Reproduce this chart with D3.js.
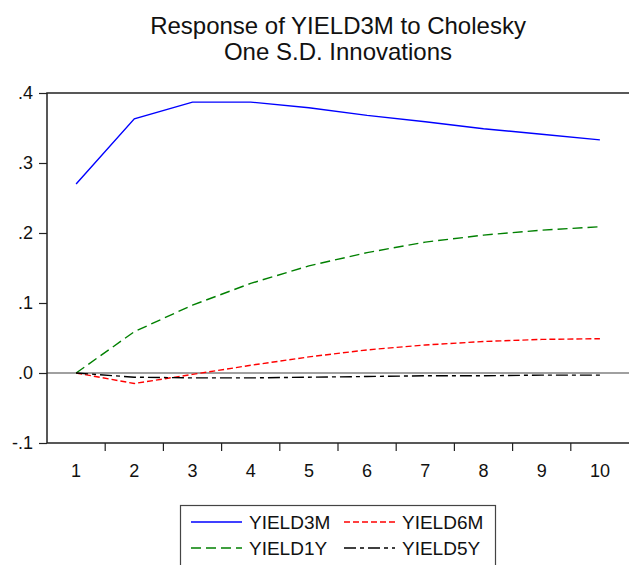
<!DOCTYPE html>
<html>
<head>
<meta charset="utf-8">
<script src="https://cdn.jsdelivr.net/npm/d3@7"></script>
<style>
  html, body { margin: 0; padding: 0; background: #fff; }
  svg { display: block; font-family: "Liberation Sans", Arial, Helvetica, sans-serif; }
</style>
</head>
<body>
<svg id="chart" width="629" height="565"></svg>
<script>
const periods = [1, 2, 3, 4, 5, 6, 7, 8, 9, 10];
const yield3m = [0.270, 0.363, 0.387, 0.387, 0.379, 0.368, 0.359, 0.349, 0.341, 0.333];
const yield6m = [0.000, -0.015, -0.002, 0.011, 0.023, 0.033, 0.040, 0.045, 0.048, 0.049];
const yield1y = [0.000, 0.059, 0.097, 0.128, 0.153, 0.172, 0.187, 0.197, 0.204, 0.209];
const yield5y = [0.000, -0.006, -0.007, -0.007, -0.006, -0.005, -0.004, -0.004, -0.003, -0.003];
const yTicks = [0.4, 0.3, 0.2, 0.1, 0.0, -0.1];
const yTickLabels = [".4", ".3", ".2", ".1", ".0", "-.1"];
const titleLines = ["Response of YIELD3M to Cholesky", "One S.D. Innovations"];
const seriesNames = ["YIELD3M", "YIELD6M", "YIELD1Y", "YIELD5Y"];
const seriesColors = ["#0000ff", "#ff0000", "#008000", "#000000"];
const seriesDash = [null, "6,3", "10,5", "12,4,4,4"];

const series = [yield3m, yield6m, yield1y, yield5y].map((vals, i) => ({
  name: seriesNames[i], color: seriesColors[i], dash: seriesDash[i], values: vals
}));

const svg = d3.select("#chart");
const pL = 47, pR = 629, pT = 93, pB = 443;

const x = d3.scaleBand().domain(periods).range([pL, pR]).padding(0);
const y = d3.scaleLinear().domain([-0.1, 0.4]).range([pB, pT]);

// Title
svg.append("g").selectAll("text").data(titleLines).join("text")
  .attr("x", (pL + pR) / 2)
  .attr("y", (d, i) => 34 + i * 26)
  .attr("text-anchor", "middle")
  .attr("font-size", 24)
  .attr("fill", "#111")
  .text(d => d);

// zero line
svg.append("line")
  .attr("x1", pL).attr("x2", pR)
  .attr("y1", y(0)).attr("y2", y(0))
  .attr("stroke", "#808080").attr("stroke-width", 1.5);

// Lines
const line = d3.line()
  .x((d, i) => x(periods[i]) + x.bandwidth() / 2)
  .y(d => y(d));

svg.append("g").selectAll("path").data(series).join("path")
  .attr("d", d => line(d.values))
  .attr("fill", "none")
  .attr("stroke", d => d.color)
  .attr("stroke-width", 1.4)
  .attr("stroke-dasharray", d => d.dash);

// Frame: top, left, bottom
svg.append("path")
  .attr("d", `M${pR},${pT}H${pL}V${pB}H${pR}`)
  .attr("fill", "none").attr("stroke", "#222").attr("stroke-width", 1.5);

// Y axis
const yAxis = d3.axisLeft(y).tickValues(yTicks)
  .tickFormat((d, i) => yTickLabels[i]).tickSize(8).tickPadding(6);
const gy = svg.append("g").attr("transform", `translate(${pL},0)`).call(yAxis);
gy.select(".domain").remove();
gy.selectAll(".tick line").attr("stroke", "#222").attr("stroke-width", 1.2);
gy.selectAll(".tick text").attr("font-size", 18).attr("fill", "#111")
  .attr("font-family", "Liberation Sans, Arial, sans-serif");

// X axis: ticks at band boundaries, labels centered
const boundaries = periods.slice(1).map(p => x(p));
svg.append("g").selectAll("line").data(boundaries).join("line")
  .attr("x1", d => d).attr("x2", d => d)
  .attr("y1", pB).attr("y2", pB + 8)
  .attr("stroke", "#222").attr("stroke-width", 1.2);
svg.append("g").selectAll("text").data(periods).join("text")
  .attr("x", d => x(d) + x.bandwidth() / 2)
  .attr("y", 477)
  .attr("text-anchor", "middle")
  .attr("font-size", 18).attr("fill", "#111")
  .text(d => d);

// Legend
const lg = svg.append("g");
lg.append("rect").attr("x", 180.5).attr("y", 505.5).attr("width", 315).attr("height", 70)
  .attr("fill", "none").attr("stroke", "#444").attr("stroke-width", 1.2);
const cols = [191, 344];
const rows = [522, 548];
series.forEach((s, k) => {
  const cx = cols[k % 2], cy = rows[Math.floor(k / 2)];
  lg.append("line").attr("x1", cx).attr("x2", cx + 51).attr("y1", cy).attr("y2", cy)
    .attr("stroke", s.color).attr("stroke-width", 1.4).attr("stroke-dasharray", s.dash);
  lg.append("text").attr("x", cx + 58).attr("y", cy + 6.5)
    .attr("font-size", 19).attr("fill", "#111").text(s.name);
});
</script>
</body>
</html>
